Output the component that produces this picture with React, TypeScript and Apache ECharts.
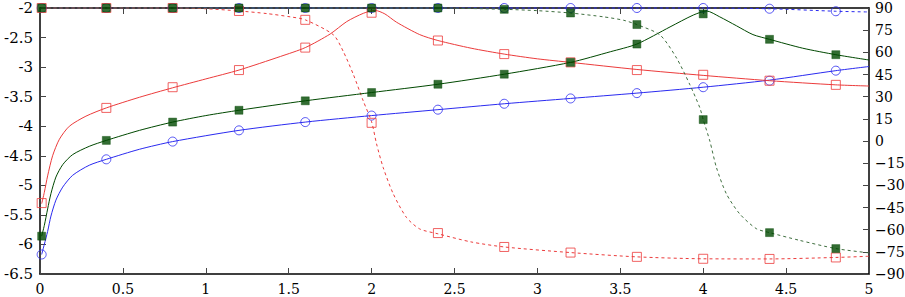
import React, { useEffect, useRef } from "react";
import * as echarts from "echarts";

// Marker abscissae
const markerX = [0.01, 0.4, 0.8, 1.2, 1.6, 2.0, 2.4, 2.8, 3.2, 3.6, 4.0, 4.4, 4.8];

// Magnitude markers (left axis)
const redMagMarkers = [-5.3, -3.69, -3.34, -3.05, -2.67, -2.08, -2.55, -2.78, -2.92, -3.05, -3.13, -3.23, -3.3];
const greenMagMarkers = [-5.86, -4.24, -3.93, -3.73, -3.57, -3.43, -3.29, -3.12, -2.92, -2.61, -2.1, -2.53, -2.79];
const blueMagMarkers = [-6.17, -4.56, -4.26, -4.07, -3.93, -3.82, -3.72, -3.62, -3.53, -3.44, -3.34, -3.23, -3.06];

// Phase markers (right axis)
const redPhaseMarkers = [90, 90, 90, 88, 82, 12.3, -62.3, -71.7, -75.5, -78.4, -79.7, -79.8, -78.8];
const greenPhaseMarkers = [90, 90, 90, 90, 90, 90, 90, 89.1, 86.6, 78.8, 14.5, -62, -72.8];
const bluePhaseMarkers = [90, 90, 90, 90, 90, 90, 90, 90, 90, 90, 90, 89.5, 87.8];

// Curves: [x, value]
const redMagCurve: [number, number][] = [
  [0.01, -5.31], [0.026, -5.12], [0.046, -4.84], [0.076, -4.5], [0.117, -4.22], [0.177, -4.0],
  [0.277, -3.83], [0.4, -3.69], [0.6, -3.51], [0.8, -3.35], [1.0, -3.2], [1.2, -3.05],
  [1.45, -2.82], [1.6, -2.67], [1.75, -2.44], [1.85, -2.23], [1.95, -2.09], [2.02, -2.04],
  [2.08, -2.1], [2.15, -2.24], [2.29, -2.45], [2.4, -2.55], [2.6, -2.68], [2.8, -2.78],
  [3.0, -2.86], [3.2, -2.92], [3.6, -3.04], [4.0, -3.14], [4.4, -3.23], [4.8, -3.3], [5.0, -3.32],
];
const greenMagCurve: [number, number][] = [
  [0.01, -5.86], [0.026, -5.68], [0.046, -5.4], [0.066, -5.14], [0.096, -4.86], [0.137, -4.65],
  [0.197, -4.48], [0.297, -4.34], [0.4, -4.24], [0.6, -4.07], [0.8, -3.93], [1.0, -3.82],
  [1.2, -3.73], [1.6, -3.57], [2.0, -3.43], [2.4, -3.29], [2.8, -3.12], [3.2, -2.92],
  [3.44, -2.74], [3.6, -2.61], [3.8, -2.32], [3.94, -2.12], [4.02, -2.05], [4.1, -2.15],
  [4.2, -2.3], [4.3, -2.45], [4.4, -2.53], [4.6, -2.68], [4.8, -2.79], [5.0, -2.88],
];
const blueMagCurve: [number, number][] = [
  [0.01, -6.17], [0.026, -6.0], [0.046, -5.78], [0.066, -5.52], [0.096, -5.25], [0.137, -5.03],
  [0.197, -4.83], [0.297, -4.66], [0.4, -4.56], [0.6, -4.39], [0.8, -4.26], [1.2, -4.07],
  [1.6, -3.93], [2.0, -3.82], [2.4, -3.72], [2.8, -3.62], [3.2, -3.53], [3.6, -3.44],
  [4.0, -3.34], [4.4, -3.22], [4.8, -3.06], [5.0, -2.99],
];
const redPhaseCurve: [number, number][] = [
  [0.01, 90], [0.8, 90], [1.0, 89.5], [1.2, 88], [1.37, 86.2], [1.51, 84], [1.6, 82],
  [1.77, 71.8], [1.83, 60.4], [1.89, 45], [1.95, 27], [2.0, 13], [2.03, -2], [2.07, -18],
  [2.13, -35.6], [2.21, -51.7], [2.29, -59.5], [2.4, -62.8], [2.6, -68.3], [2.8, -71.7],
  [3.2, -75.5], [3.6, -78.4], [4.0, -79.7], [4.4, -79.8], [4.8, -78.8], [5.0, -78],
];
const greenPhaseCurve: [number, number][] = [
  [0.01, 90], [2.4, 90], [2.8, 89.1], [3.0, 88.2], [3.2, 86.6], [3.4, 84], [3.52, 81.7],
  [3.6, 78.8], [3.74, 71.7], [3.84, 56], [3.92, 38], [3.98, 22.4], [4.0, 14.5], [4.04, 0],
  [4.08, -18], [4.14, -35.8], [4.22, -49.3], [4.32, -59.3], [4.4, -62], [4.58, -67.2],
  [4.8, -72.8], [5.0, -75.7],
];
const bluePhaseCurve: [number, number][] = [
  [0.01, 90], [4.0, 90], [4.4, 89.5], [4.8, 87.8], [5.0, 87.3],
];

const RED = "#ec3b3b";
const GREEN = "#004800";
const GREEN_DASH = "#3f6f3f";
const BLUE = "#2a2af0";
const FONT = "DejaVu Serif";

function pairs(xs: number[], ys: number[]) {
  return xs.map((x, i) => [x, ys[i]]);
}

export default function App() {
  const ref = useRef<HTMLDivElement>(null);
  useEffect(() => {
    if (!ref.current) return;
    const chart = echarts.init(ref.current, undefined, { renderer: "svg" });

    const lineS = (data: [number, number][], yIdx: number, color: string, dashed: boolean) => ({
      type: "line",
      xAxisIndex: 0,
      yAxisIndex: yIdx,
      data,
      showSymbol: false,
      symbol: "none",
      smooth: 0.25,
      clip: false,
      silent: true,
      lineStyle: { color, width: 1, type: dashed ? [3, 3] : "solid" },
      z: 2,
    });
    const markS = (data: number[][], yIdx: number, color: string, shape: string, filled: boolean, z: number) => ({
      type: "scatter",
      xAxisIndex: 0,
      yAxisIndex: yIdx,
      data,
      symbol: shape,
      symbolSize: filled ? 8 : 9,
      clip: false,
      silent: true,
      itemStyle: filled
        ? { color, borderColor: color, borderWidth: 0.5 }
        : { color: "rgba(255,255,255,0)", borderColor: color, borderWidth: 1 },
      z,
    });

    const axisLine = { show: true, onZero: false, lineStyle: { color: "#000", width: 1.5 } };
    const tick = { show: true, inside: true, length: 6, lineStyle: { color: "#444", width: 1 } };
    const label = { fontFamily: FONT, fontSize: 14, color: "#000" };

    chart.setOption({
      animation: false,
      backgroundColor: "#fff",
      textStyle: { fontFamily: FONT },
      grid: { left: 40, right: 36, top: 8, bottom: 23, containLabel: false, outerBoundsMode: "none" },
      xAxis: [
        {
          type: "value", min: 0, max: 5, interval: 0.5, position: "bottom",
          axisLine, axisTick: tick, splitLine: { show: false },
          axisLabel: { ...label, margin: 8 },
        },
        {
          type: "value", min: 0, max: 5, interval: 0.5, position: "top",
          axisLine, axisTick: tick, splitLine: { show: false },
          axisLabel: { show: false },
        },
      ],
      yAxis: [
        {
          type: "value", min: -6.5, max: -2, interval: 0.5, position: "left",
          axisLine, axisTick: tick, splitLine: { show: false },
          axisLabel: { ...label, fontSize: 15, margin: 7 },
        },
        {
          type: "value", min: -90, max: 90, interval: 15, position: "right",
          axisLine, axisTick: tick, splitLine: { show: false },
          axisLabel: {
            ...label, margin: 6,
            formatter: (v: number) => String(v).replace("-", "\u2212"),
          },
        },
      ],
      series: [
        lineS(blueMagCurve, 0, BLUE, false),
        lineS(bluePhaseCurve, 1, BLUE, true),
        lineS(redMagCurve, 0, RED, false),
        lineS(redPhaseCurve, 1, RED, true),
        lineS(greenMagCurve, 0, GREEN, false),
        lineS(greenPhaseCurve, 1, GREEN_DASH, true),
        markS(pairs(markerX, blueMagMarkers), 0, BLUE, "circle", false, 3),
        markS(pairs(markerX, bluePhaseMarkers), 1, BLUE, "circle", false, 3),
        markS(pairs(markerX, redMagMarkers), 0, RED, "rect", false, 4),
        markS(pairs(markerX, redPhaseMarkers), 1, RED, "rect", false, 4),
        markS(pairs(markerX, greenMagMarkers), 0, GREEN, "rect", true, 5),
        markS(pairs(markerX, greenPhaseMarkers), 1, GREEN, "rect", true, 5),
      ],
    });
    return () => chart.dispose();
  }, []);
  return (
    <div
      ref={ref}
      style={{ position: "absolute", left: 0, top: 0, width: 905, height: 297 }}
    />
  );
}
